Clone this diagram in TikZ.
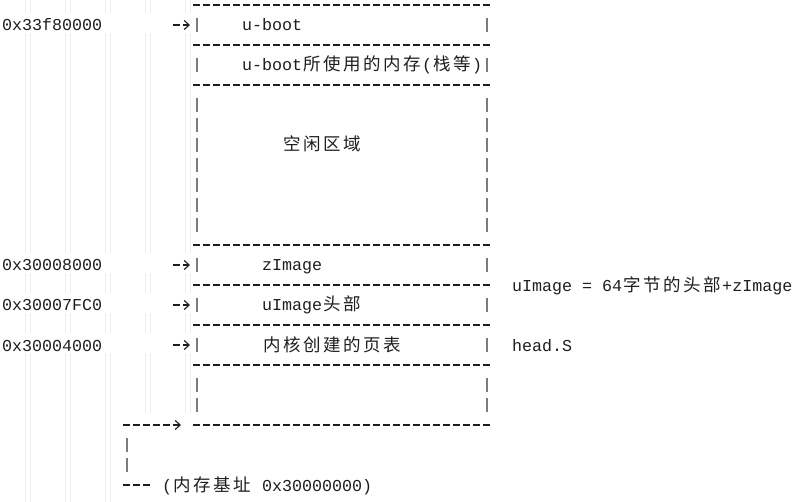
\documentclass[tikz,border=0pt]{standalone}
\usepackage{fontspec}
\setmonofont{Liberation Mono}
\newfontfamily\cjkfont{Noto Sans CJK SC}
\usetikzlibrary{arrows.meta}

\definecolor{ink}{HTML}{1E1E1E}
\definecolor{bar}{HTML}{7C7F70}
\definecolor{guide}{HTML}{EEEEEE}

\makeatletter
\newcommand\cjkrun[1]{{\cjkfont\fontsize{17.5}{20}\selectfont\cjk@next#1\@nil}}
\def\cjk@next#1{\ifx#1\@nil\else\makebox[20pt]{#1}\expandafter\cjk@next\fi}
\makeatother

\begin{document}
\begin{tikzpicture}[x=1pt,y=-1pt,
    txt/.style={font=\ttfamily\fontsize{16.67}{20}\selectfont, text=ink, inner sep=0pt, anchor=base west},
    rule/.style={draw=ink, line width=1.1pt, dash pattern=on 7pt off 3pt},
    bars/.style={draw=bar, line width=1.7pt},
    ptr/.style={rule, -{Straight Barb[length=5pt,width=9pt]}},
    guideline/.style={draw=guide, line width=0.6pt}]
    \useasboundingbox (0,0) rectangle (797,502);

    \foreach \x/\yend in {25/502,65/502,105/502,145/413,185/413}
      \foreach \a/\b in {0/13,33/253,273/293,313/333,353/\yend}
        \draw[guideline] (\x,\a) -- (\x,\b) (\x+5,\a) -- (\x+5,\b);

    \foreach \r in {0,2,4,12,14,16,18,21}
      \draw[rule] (193,{5+20*\r}) -- (493,{5+20*\r});
    \foreach \r in {1,3,5,6,7,8,9,10,11,13,15,17,19,20}
      \draw[bars] (197,{20*\r-2}) -- (197,{20*\r+12}) (487,{20*\r-2}) -- (487,{20*\r+12});

    \node[txt] (ubootaddr) at (2,31) {0x33f80000};
    \node[txt] (zimgaddr) at (2,271) {0x30008000};
    \node[txt] (hdraddr) at (2,311) {0x30007FC0};
    \node[txt] (ptabaddr) at (2,351) {0x30004000};

    \coordinate (ubootin) at (190,25);
    \coordinate (zimgin) at (190,265);
    \coordinate (hdrin) at (190,305);
    \coordinate (ptabin) at (190,345);
    \foreach \c in {ubootin,zimgin,hdrin,ptabin}
      \draw[ptr] ([xshift=-17pt]\c) -- (\c);

    \node[txt] (uboot) at (242,31) {u-boot};
    \node[txt] (ubootmem) at (242,71) {u-boot\cjkrun{所使用的内存}(\cjkrun{栈等})};
    \node[txt] (free) at (282,151) {\cjkrun{空闲区域}};
    \node[txt] (zimg) at (262,271) {zImage};
    \node[txt] (uimghdr) at (262,311) {uImage\cjkrun{头部}};
    \node[txt] (ptab) at (262,351) {\cjkrun{内核创建的页表}};
    \node[txt] (uimgnote) at (512,291) {uImage = 64\cjkrun{字节的头部}+zImage};
    \node[txt] (heads) at (512,351) {head.S};

    \coordinate (base) at (123,425);
    \coordinate (baseend) at (181,425);
    \draw[ptr] (base) -- (baseend);
    \foreach \r in {22,23}
      \draw[bars] (127,{20*\r-2}) -- (127,{20*\r+12});
    \coordinate (ramtick) at (123,485);
    \node[txt] (ram) at (162,491) {(\cjkrun{内存基址} 0x30000000)};
    \draw[rule] (ramtick) -- ([xshift=-9pt]ram.west |- ramtick);
  \end{tikzpicture}
\end{document}
